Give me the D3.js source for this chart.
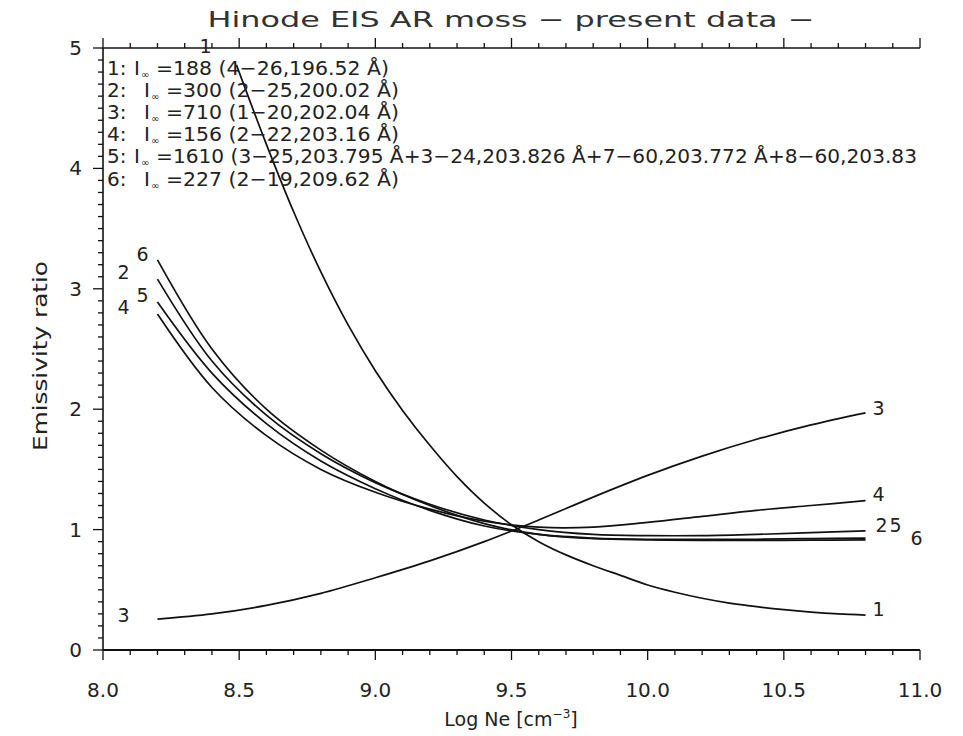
<!DOCTYPE html>
<html><head><meta charset="utf-8">
<script src="https://cdn.jsdelivr.net/npm/d3@7/dist/d3.min.js"></script>
<style>html,body{margin:0;padding:0;background:#fff}</style>
</head><body>
<svg id="c" width="963" height="736"></svg>
<script>
// ---------------- data ----------------
const title = "Hinode EIS AR moss \u2212 present data \u2212";
const xLabel = "Log Ne [cm";
const yLabel = "Emissivity ratio";
const xTicks = [8.0, 8.5, 9.0, 9.5, 10.0, 10.5, 11.0];
const yTicks = [0, 1, 2, 3, 4, 5];
const curveIds = ["1", "2", "3", "4", "5", "6"];

const logNe = [8.2, 8.4, 8.6, 8.8, 9.0, 9.2, 9.4, 9.6, 9.8, 10.0, 10.2, 10.4, 10.6, 10.8];
const logNe1 = [8.49, 8.6, 8.7, 8.8, 8.9, 9.0, 9.1, 9.2, 9.3, 9.4, 9.5, 9.6, 9.7, 9.8, 9.9, 10.0, 10.1, 10.2, 10.3, 10.4, 10.5, 10.6, 10.7, 10.8];
const ratio1 = [4.86, 4.20, 3.64, 3.14, 2.70, 2.32, 1.99, 1.70, 1.44, 1.22, 1.04, 0.90, 0.79, 0.70, 0.62, 0.54, 0.48, 0.43, 0.39, 0.36, 0.335, 0.315, 0.30, 0.29];
const ratio2 = [3.08, 2.40, 1.95, 1.63, 1.39, 1.21, 1.08, 1.00, 0.96, 0.95, 0.95, 0.96, 0.975, 0.99];
const ratio3 = [0.257, 0.30, 0.37, 0.47, 0.60, 0.74, 0.90, 1.08, 1.27, 1.45, 1.61, 1.75, 1.87, 1.97];
const ratio4 = [2.79, 2.18, 1.78, 1.50, 1.31, 1.17, 1.07, 1.02, 1.02, 1.06, 1.11, 1.16, 1.20, 1.24];
const ratio5 = [2.89, 2.30, 1.88, 1.57, 1.34, 1.16, 1.03, 0.96, 0.93, 0.92, 0.92, 0.92, 0.925, 0.93];
const ratio6 = [3.24, 2.50, 2.00, 1.66, 1.40, 1.20, 1.05, 0.96, 0.925, 0.915, 0.91, 0.91, 0.912, 0.915];

const legendIinf = ["188", "300", "710", "156", "1610", "227"];
const legendLines = ["(4\u221226,196.52 \u00c5)", "(2\u221225,200.02 \u00c5)", "(1\u221220,202.04 \u00c5)",
  "(2\u221222,203.16 \u00c5)", "(3\u221225,203.795 \u00c5+3\u221224,203.826 \u00c5+7\u221260,203.772 \u00c5+8\u221260,203.83",
  "(2\u221219,209.62 \u00c5)"];

// ---------------- layout ----------------
const svg = d3.select("#c");
const x = d3.scaleLinear().domain([8, 11]).range([103, 920]);
const y = d3.scaleLinear().domain([0, 5]).range([650, 48]);
const FONT = "'DejaVu Sans', sans-serif";
const ink = "#111";

svg.append("defs").append("clipPath").attr("id", "plotclip")
  .append("rect").attr("x", 100).attr("y", 0).attr("width", 821).attr("height", 736);

// title
svg.append("text").attr("x", 511).attr("y", 27).attr("text-anchor", "middle")
  .attr("font-family", FONT).attr("font-size", 22).attr("fill", "#333")
  .attr("textLength", 607).attr("lengthAdjust", "spacingAndGlyphs").text(title);

// axes lines
const ax = svg.append("g").attr("stroke", ink).attr("fill", "none");
ax.append("line").attr("x1", x(8)).attr("x2", x(11)).attr("y1", y(0)).attr("y2", y(0)).attr("stroke-width", 2.2);
ax.append("line").attr("x1", x(8)).attr("x2", x(11)).attr("y1", y(5)).attr("y2", y(5)).attr("stroke-width", 1.6);
ax.append("line").attr("x1", x(8)).attr("x2", x(8)).attr("y1", y(0)).attr("y2", y(5)).attr("stroke-width", 1.6);

// x ticks (bottom & top) - outward
const xMinor = d3.range(0, 31).map(i => 8 + i * 0.1);
xMinor.forEach((v, i) => {
  const major = i % 5 === 0;
  const len = major ? 10 : 5;
  ax.append("line").attr("x1", x(v)).attr("x2", x(v)).attr("y1", y(0)).attr("y2", y(0) + len).attr("stroke-width", 1.3);
  ax.append("line").attr("x1", x(v)).attr("x2", x(v)).attr("y1", y(5)).attr("y2", y(5) - len).attr("stroke-width", 1.3);
});
// y ticks - outward (left)
const yMinor = d3.range(0, 51).map(i => i * 0.1);
yMinor.forEach((v, i) => {
  const major = i % 10 === 0;
  const len = major ? 10 : 5;
  ax.append("line").attr("x1", x(8)).attr("x2", x(8) - len).attr("y1", y(v)).attr("y2", y(v)).attr("stroke-width", 1.3);
});

// tick labels
svg.append("g").selectAll("text").data(xTicks).join("text")
  .attr("x", d => x(d)).attr("y", 697).attr("text-anchor", "middle")
  .attr("font-family", FONT).attr("font-size", 20).attr("fill", "#222")
  .text(d => d.toFixed(1));
svg.append("g").selectAll("text").data(yTicks).join("text")
  .attr("x", 82).attr("y", d => y(d) + 7).attr("text-anchor", "end")
  .attr("font-family", FONT).attr("font-size", 20).attr("fill", "#222")
  .text(d => d);

// axis titles
const xt = svg.append("text").attr("x", 511).attr("y", 726).attr("text-anchor", "middle")
  .attr("font-family", FONT).attr("font-size", 19).attr("fill", "#222");
xt.append("tspan").text(xLabel);
xt.append("tspan").attr("dy", -8).attr("font-size", 12).text("\u22123");
xt.append("tspan").attr("dy", 8).text("]");
svg.append("text").attr("transform", "translate(47,356) rotate(-90)").attr("text-anchor", "middle")
  .attr("font-family", FONT).attr("font-size", 19).attr("fill", "#222")
  .attr("textLength", 190).attr("lengthAdjust", "spacingAndGlyphs").text(yLabel);

// curves
const series = [
  {id: "1", xs: logNe1, ys: ratio1},
  {id: "2", xs: logNe, ys: ratio2},
  {id: "3", xs: logNe, ys: ratio3},
  {id: "4", xs: logNe, ys: ratio4},
  {id: "5", xs: logNe, ys: ratio5},
  {id: "6", xs: logNe, ys: ratio6}
];
const line = d3.line().x(d => x(d[0])).y(d => y(d[1])).curve(d3.curveCatmullRom.alpha(0.5));
svg.append("g").selectAll("path").data(series).join("path")
  .attr("d", s => line(s.xs.map((v, i) => [v, s.ys[i]])))
  .attr("fill", "none").attr("stroke", ink).attr("stroke-width", 1.7);

// curve labels (pixel offsets from curve ends)
const leftOff = {"1": [-31, -12], "2": [-34, 0], "3": [-34, 3], "4": [-34, 0], "5": [-15, 0], "6": [-15, 1]};
const rightOff = {"1": [13, 1], "2": [16, 1], "3": [13, 2], "4": [13, 0], "5": [30, -6], "6": [51, 5]};
const lab = svg.append("g").attr("font-family", FONT).attr("font-size", 19).attr("fill", "#222").attr("text-anchor", "middle");
series.forEach(s => {
  const n = s.xs.length;
  const lo = leftOff[s.id], ro = rightOff[s.id];
  lab.append("text").attr("x", x(s.xs[0]) + lo[0]).attr("y", y(s.ys[0]) + lo[1]).text(s.id);
  lab.append("text").attr("x", x(s.xs[n - 1]) + ro[0]).attr("y", y(s.ys[n - 1]) + ro[1]).text(s.id);
});

// legend
const lg = svg.append("g").attr("font-family", FONT).attr("fill", "#222").attr("clip-path", "url(#plotclip)");
const iX = [134, 144, 144, 144, 134, 144];
const restEnd = [389, 399, 399, 399, 917, 399];
curveIds.forEach((id, i) => {
  const base = 74.5 + i * 22.2;
  lg.append("text").attr("x", 107).attr("y", base).attr("font-size", 20).text(id + ":");
  lg.append("text").attr("x", iX[i]).attr("y", base).attr("font-size", 20).text("I");
  lg.append("text").attr("x", iX[i] + 7).attr("y", base + 3).attr("font-size", 10).text("\u221e");
  const start = iX[i] + 22;
  lg.append("text").attr("x", start).attr("y", base).attr("font-size", 20)
    .attr("textLength", restEnd[i] - start).attr("lengthAdjust", "spacingAndGlyphs")
    .text("=" + legendIinf[i] + " " + legendLines[i]);
});
</script>
</body></html>
